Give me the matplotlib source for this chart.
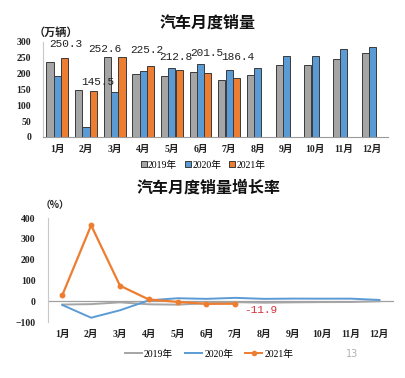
import numpy as np
import matplotlib
matplotlib.use("Agg")
import matplotlib.pyplot as plt
from matplotlib.patches import Patch
from matplotlib.lines import Line2D

plt.rcParams['font.family'] = ['Liberation Serif', 'Noto Sans CJK SC']

months = ['1月', '2月', '3月', '4月', '5月', '6月', '7月', '8月', '9月', '10月', '11月', '12月']
years = ['2019年', '2020年', '2021年']

sales_2019 = [236.7, 148.2, 252.0, 198.0, 191.3, 205.6, 180.8, 195.8, 227.1, 228.4, 245.9, 265.6]
sales_2020 = [194.1, 31.0, 143.1, 207.0, 219.4, 230.0, 211.2, 218.6, 256.5, 257.3, 276.5, 283.1]
sales_2021 = [250.3, 145.5, 252.6, 225.2, 212.8, 201.5, 186.4]

growth_2019 = [-15.8, -13.8, -5.2, -14.6, -16.4, -9.6, -4.3, -6.9, -5.2, -4.0, -3.6, 0.1]
growth_2020 = [-18.0, -79.1, -43.3, 4.4, 14.5, 11.6, 16.4, 11.6, 12.8, 12.5, 12.6, 6.4]
growth_2021 = [29.5, 365.3, 74.9, 8.6, -3.1, -12.4, -11.9]

c_gray = '#a5a5a5'
c_blue = '#5b9bd5'
c_orange = '#ed7d31'
edge = '#3a3a3a'
tick_col = '#222222'

fig = plt.figure(figsize=(4.06, 3.78), dpi=100)
fig.patch.set_facecolor('white')

# ---------------- top chart ----------------
ax1 = fig.add_axes([0.106, 0.6376, 0.850, 0.2513])
x = np.arange(len(months))
w = 0.25
off = 0.255
ax1.bar(x - off, sales_2019, w, color=c_gray, edgecolor=edge, linewidth=0.7)
ax1.bar(x, sales_2020, w, color=c_blue, edgecolor=edge, linewidth=0.7)
x21 = np.arange(len(sales_2021))
ax1.bar(x21 + off, sales_2021, w, color=c_orange, edgecolor=edge, linewidth=0.7)

ax1.set_xlim(-0.5, 11.55)
ax1.set_ylim(0, 300)
ax1.set_yticks([0, 50, 100, 150, 200, 250, 300])
ax1.set_xticks(x)
ax1.set_xticklabels(months)
ax1.tick_params(axis='both', length=0, labelsize=7, colors=tick_col)
ax1.tick_params(axis='y', pad=8.5)
ax1.tick_params(axis='x', pad=5.5)
for lab in ax1.get_yticklabels() + ax1.get_xticklabels():
    lab.set_fontweight('bold')
for s in ['top', 'right']:
    ax1.spines[s].set_visible(False)
ax1.spines['left'].set_color('#c8c8c8')
ax1.spines['bottom'].set_color('#9a9a9a')
ax1.spines['left'].set_linewidth(0.8)
ax1.spines['bottom'].set_linewidth(0.8)

# data label offsets in pixels (dx, dy)
lab_off = [(1.5, 14), (4, 9), (-17, 8), (-4, 15.5), (-3.5, 12.5), (-1.5, 20), (1, 21)]
for i, v in enumerate(sales_2021):
    dx, dy = lab_off[i]
    ax1.annotate(f'{v:.1f}', xy=(i + off, v), xytext=(dx * 0.72, dy * 0.72),
                 textcoords='offset points', ha='center', va='center',
                 fontsize=8, family='Liberation Mono', color='#222222')

fig.text(208 / 406, 1 - 23 / 378, '汽车月度销量', ha='center', va='center',
         fontsize=11.5, fontweight='bold', family='Noto Sans CJK SC', color='#111111')
fig.text(56 / 406, 1 - 32 / 378, '（万辆）', ha='center', va='center',
         fontsize=8, fontweight='bold', family='Noto Sans CJK SC', color='#222222')

h1 = [Patch(facecolor=c, edgecolor=edge, linewidth=0.7) for c in [c_gray, c_blue, c_orange]]
fig.legend(h1, years, loc='center', bbox_to_anchor=(203 / 406, 1 - 165 / 378), ncol=3,
           frameon=False, fontsize=7, handlelength=0.6, handleheight=0.6,
           handletextpad=0.15, columnspacing=0.8, borderaxespad=0, borderpad=0)

# ---------------- bottom chart ----------------
ax2 = fig.add_axes([0.118, 0.148, 0.852, 0.275])
ax2.axhline(0, color='#a0a0a0', linewidth=0.9, zorder=1)
ax2.plot(x, growth_2019, color=c_gray, linewidth=1.4, zorder=2)
ax2.plot(x, growth_2020, color=c_blue, linewidth=1.4, zorder=3)
ax2.plot(x21, growth_2021, color=c_orange, linewidth=1.6, marker='o', markersize=3.2, zorder=4)

ax2.annotate(f'{growth_2021[-1]:.1f}', xy=(x21[-1], growth_2021[-1]), xytext=(25 * 0.72, -6.5 * 0.72),
             textcoords='offset points', ha='center', va='center',
             fontsize=8, family='Liberation Mono', color='#d6303a')

ax2.set_xlim(-0.5, 11.5)
ax2.set_ylim(-100, 400)
ax2.set_yticks([-100, 0, 100, 200, 300, 400])
ax2.set_xticks(x)
ax2.set_xticklabels(months)
ax2.tick_params(axis='both', length=0, labelsize=7, colors=tick_col)
ax2.tick_params(axis='y', pad=9)
ax2.tick_params(axis='x', pad=5.5)
for lab in ax2.get_yticklabels() + ax2.get_xticklabels():
    lab.set_fontweight('bold')
for s in ['top', 'right', 'bottom']:
    ax2.spines[s].set_visible(False)
ax2.spines['left'].set_color('#c8c8c8')
ax2.spines['left'].set_linewidth(0.8)

fig.text(208.5 / 406, 1 - 188 / 378, '汽车月度销量增长率', ha='center', va='center',
         fontsize=11.5, fontweight='bold', family='Noto Sans CJK SC', color='#111111')
fig.text(55 / 406, 1 - 205 / 378, '（%）', ha='center', va='center',
         fontsize=7, fontweight='bold', family='Noto Sans CJK SC', color='#222222')

h2 = [Line2D([], [], color=c_gray, linewidth=1.4),
      Line2D([], [], color=c_blue, linewidth=1.4),
      Line2D([], [], color=c_orange, linewidth=1.4, marker='o', markersize=3)]
fig.legend(h2, years, loc='center', bbox_to_anchor=(209 / 406, 1 - 354 / 378), ncol=3,
           frameon=False, fontsize=7, handlelength=1.8, handletextpad=0.2,
           columnspacing=1.2, borderaxespad=0, borderpad=0)

fig.text(352 / 406, 1 - 354 / 378, '13', ha='center', va='center', fontsize=7,
         family='DejaVu Sans', color='#b0b0b0')

fig.savefig('out.png', dpi=100, facecolor='white')
